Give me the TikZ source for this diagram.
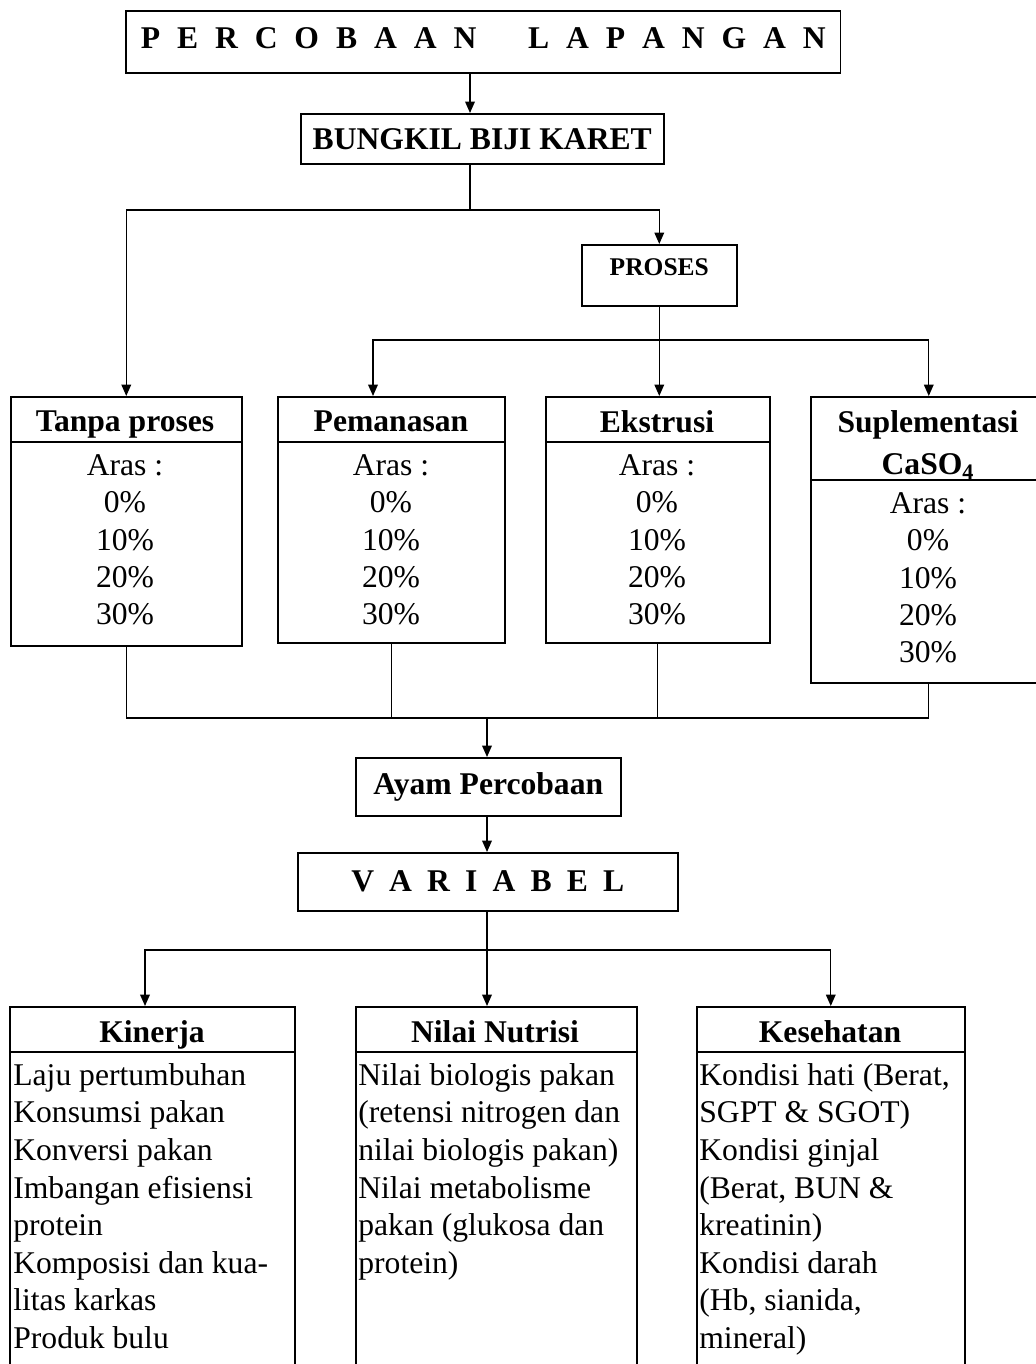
\documentclass[tikz,border=0pt]{standalone}
\usepackage{fontspec}
\setmainfont{Liberation Serif}
\usetikzlibrary{arrows.meta,positioning}

\begin{document}
\begin{tikzpicture}[x=0.02cm,y=-0.02cm,
  box/.style={draw,line width=0.9pt,inner sep=0pt,anchor=north west},
  head/.style={font=\fontsize{18}{24}\bfseries\selectfont,inner sep=0pt,align=center,anchor=north},
  isi/.style={font=\fontsize{18}{21.3}\selectfont,inner sep=0pt,align=center,anchor=north},
  daftar/.style={font=\fontsize{18}{21.4}\selectfont,inner sep=0pt,align=left,anchor=north west},
  arr/.style={line width=0.8pt,-{Triangle[length=6.5pt,width=5.5pt]}},
  garis/.style={line width=0.8pt}]
\useasboundingbox (0,0) rectangle (1035,1364);

% atas
\node[box,minimum width=14.3cm,minimum height=1.24cm,text depth=0.16cm,
  font=\fontsize{18}{20}\bfseries\selectfont] (judul) at (125,10)
  {\makebox[13.7cm][s]{P E R C O B A A N\hspace{1.1em} L A P A N G A N}};
\node[box,minimum width=7.26cm,minimum height=1cm,
  font=\fontsize{18}{20}\bfseries\selectfont] (bungkil) at (300,113) {BUNGKIL BIJI KARET};
\node[box,minimum width=3.1cm,minimum height=1.22cm,text depth=0.34cm,
  font=\fontsize{14.5}{16}\bfseries\selectfont] (proses) at (581,244) {PROSES};

% perlakuan
\node[box,minimum width=4.62cm,minimum height=4.98cm] (tanpa) at (10,396) {};
\node[head] (tanpa-h) at (125,410) {Tanpa proses};
\draw[garis] (tanpa.west |- 0,442) -- (tanpa.east |- 0,442);
\node[isi] (tanpa-i) at (125,454) {Aras :\\0\%\\10\%\\20\%\\30\%};

\node[box,minimum width=4.54cm,minimum height=4.92cm] (pemanasan) at (277,396) {};
\node[head] (pemanasan-h) at (391,410) {Pemanasan};
\draw[garis] (pemanasan.west |- 0,442) -- (pemanasan.east |- 0,442);
\node[isi] (pemanasan-i) at (391,454) {Aras :\\0\%\\10\%\\20\%\\30\%};

\node[box,minimum width=4.48cm,minimum height=4.92cm] (ekstrusi) at (545,396) {};
\node[head] (ekstrusi-h) at (657,410) {Ekstrusi};
\draw[garis] (ekstrusi.west |- 0,442) -- (ekstrusi.east |- 0,442);
\node[isi] (ekstrusi-i) at (657,454) {Aras :\\0\%\\10\%\\20\%\\30\%};

\node[box,minimum width=4.72cm,minimum height=5.72cm] (suplemen) at (810,396) {};
\node[head] (suplemen-h) at (928,410) {Suplementasi\\CaSO\textsubscript{4}};
\draw[garis] (suplemen.west |- 0,480) -- (suplemen.east |- 0,480);
\node[isi] (suplemen-i) at (928,492) {Aras :\\0\%\\10\%\\20\%\\30\%};

% tengah
\node[box,minimum width=5.3cm,minimum height=1.16cm,
  font=\fontsize{18}{20}\bfseries\selectfont] (ayam) at (355,757) {Ayam Percobaan};
\node[box,minimum width=7.6cm,minimum height=1.16cm,
  font=\fontsize{18}{20}\bfseries\selectfont] (variabel) at (297,852)
  {\makebox[5.46cm][s]{V A R I A B E L}};

% variabel
\node[box,minimum width=5.7cm,minimum height=7.48cm] (kinerja) at (9,1006) {};
\node[head] (kinerja-h) at (152,1020) {Kinerja};
\draw[garis] (kinerja.west |- 0,1052) -- (kinerja.east |- 0,1052);
\node[daftar] (kinerja-i) at (13,1063) {Laju pertumbuhan\\Konsumsi pakan\\Konversi pakan\\Imbangan efisiensi\\protein\\Komposisi dan kua-\\litas karkas\\Produk bulu};

\node[box,minimum width=5.62cm,minimum height=7.48cm] (nilai) at (355,1006) {};
\node[head] (nilai-h) at (495,1020) {Nilai Nutrisi};
\draw[garis] (nilai.west |- 0,1052) -- (nilai.east |- 0,1052);
\node[daftar] (nilai-i) at (358,1063) {Nilai biologis pakan\\(retensi nitrogen dan\\nilai biologis pakan)\\Nilai metabolisme\\pakan (glukosa dan\\protein)};

\node[box,minimum width=5.36cm,minimum height=7.48cm] (kesehatan) at (696,1006) {};
\node[head] (kesehatan-h) at (830,1020) {Kesehatan};
\draw[garis] (kesehatan.west |- 0,1052) -- (kesehatan.east |- 0,1052);
\node[daftar] (kesehatan-i) at (699,1063) {Kondisi hati (Berat,\\SGPT \& SGOT)\\Kondisi ginjal\\(Berat, BUN \&\\kreatinin)\\Kondisi darah\\(Hb, sianida,\\mineral)};

% panah
\coordinate (cabang) at (470,210);
\coordinate (cabang2) at (658,340);
\coordinate (gabung) at (487,718);
\coordinate (cabang3) at (487,950);
\draw[arr] (judul.south -| cabang) -- (bungkil.north -| cabang);
\draw[garis] (bungkil.south -| cabang) -- (cabang);
\draw[arr] (cabang) -| (tanpa.north);
\draw[arr] (cabang) -| (proses.north);
\draw[arr] (proses.south) -- (proses.south |- ekstrusi.north);
\draw[arr] (cabang2) -| (pemanasan.north -| 373,0);
\draw[arr] (cabang2) -| (suplemen.north);
\draw[garis] (tanpa.south) |- (suplemen.south |- gabung) -- (suplemen.south);
\draw[garis] (pemanasan.south) -- (pemanasan.south |- gabung);
\draw[garis] (ekstrusi.south) -- (ekstrusi.south |- gabung);
\draw[arr] (gabung) -- (ayam.north -| gabung);
\draw[arr] (ayam.south -| gabung) -- (variabel.north -| gabung);
\draw[arr] (variabel.south -| cabang3) -- (nilai.north -| cabang3);
\draw[arr] (cabang3) -| (kinerja.north -| 145,0);
\draw[arr] (cabang3) -| (kesehatan.north);
\end{tikzpicture}
\end{document}
